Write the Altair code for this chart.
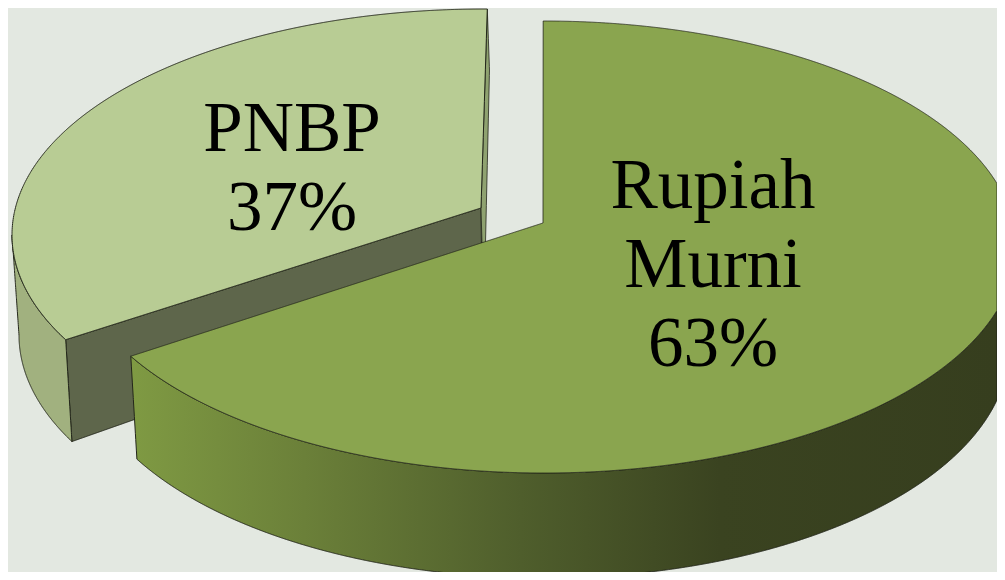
import numpy as np
import pandas as pd
import altair as alt

LABELS = ["Rupiah\nMurni\n63%", "PNBP\n37%"]
SHARES = [63, 37]

# projected-view constants of the tilted, exploded pie
W, H = 1005, 580
PAGE = 8
VIEW_SHIFT = 14.3                # perspective shift of the cut between slices (deg)
TOP_A, TOP_B = 472, 226
LOW_A, LOW_B = 465, 230
GREEN_C, GREEN_LOW = (544, 247), (544, 348)
PALE_C, PALE_LOW = (484, 235), (484, 335)
APEX_OFF = (-1, -24)


def arc(c, a, b, d0, d1, n=240):
    t = np.radians(np.linspace(d0, d1, n))
    return np.c_[c[0] + a * np.sin(t), c[1] - b * np.cos(t)]


def spans(poly, step=1.0):
    poly = np.asarray(poly, float)
    x0 = poly[:, 0]
    y0 = poly[:, 1]
    x1 = np.roll(x0, -1)
    y1 = np.roll(y0, -1)
    lo, hi = x0.min(), min(x0.max(), W - PAGE)
    grid = np.arange(np.ceil(lo) + 0.37, hi, step)
    extra = np.r_[x0 - 1e-3, x0 + 1e-3]
    xs = np.unique(np.r_[lo + 1e-3, grid, extra[(extra > lo) & (extra < hi)], hi - 1e-3])
    rows = []
    for x in xs:
        m = (x0 - x) * (x1 - x) < 0
        if not m.any():
            continue
        ys = y0[m] + (x - x0[m]) / (x1[m] - x0[m]) * (y1[m] - y0[m])
        rows.append((x, ys.min(), ys.max()))
    return pd.DataFrame(rows, columns=["x", "y", "y2"])


cut = SHARES[0] / sum(SHARES) * 360 + VIEW_SHIFT
green_end = cut
pale_start, pale_end = cut + 1.3, 360.4

green_apex = (GREEN_C[0] + APEX_OFF[0], GREEN_C[1] + APEX_OFF[1])
pale_apex = (481, 208)

green_arc = arc(GREEN_C, TOP_A, TOP_B, -0.1, green_end)
green_top = np.r_[green_arc, [green_apex]]
green_side = np.r_[
    arc(GREEN_C, TOP_A, TOP_B, 95, green_end),
    arc(GREEN_LOW, LOW_A, LOW_B, green_end, 95),
]

pale_arc = arc(PALE_C, TOP_A, TOP_B, pale_start, pale_end)
pale_top = np.r_[pale_arc, [pale_apex]]
pale_low = arc(PALE_LOW, LOW_A, LOW_B, pale_start, 270)
pale_side = np.r_[arc(PALE_C, TOP_A, TOP_B, pale_start, 270), pale_low[::-1]]
pale_face = np.array([pale_arc[0], pale_apex, (482, 297), pale_low[0]])
pale_sliver = np.array([pale_arc[-1], (489.5, 70), (485.5, 243), (482, 243), pale_apex])

xs = alt.Scale(domain=[PAGE, W - PAGE], range=[0, W - 2 * PAGE], nice=False, zero=False)
ys = alt.Scale(domain=[H - PAGE, PAGE], range=[H - 2 * PAGE, 0], nice=False, zero=False)
X = alt.X("x:Q", scale=xs, axis=None)
Y = alt.Y("y:Q", scale=ys, axis=None)
Y2 = alt.Y2("y2:Q")

INK = "#23261a"


def shape(poly, fill, sw=1.0):
    return (
        alt.Chart(spans(poly))
        .mark_area(fill=fill, stroke=INK, strokeWidth=sw, clip=True)
        .encode(x=X, y=Y, y2=Y2)
    )


side_grad = alt.Gradient(
    gradient="linear", x1=0, x2=1, y1=0, y2=0,
    stops=[
        alt.GradientStop(color="#7f9a43", offset=0),
        alt.GradientStop(color="#6b8039", offset=0.2),
        alt.GradientStop(color="#4f5e2c", offset=0.45),
        alt.GradientStop(color="#3a4320", offset=0.68),
        alt.GradientStop(color="#363e1e", offset=1),
    ],
)

text_df = pd.DataFrame(
    {"x": [713, 292], "y": [152, 95], "t": LABELS}
)
labels = (
    alt.Chart(text_df)
    .mark_text(
        font="Liberation Serif", fontSize=71, color="#000000", lineBreak="\n",
        lineHeight=79, baseline="top", align="center",
    )
    .encode(x=X, y=Y, text="t:N")
)

chart = alt.layer(
    shape(pale_face, "#5e664b"),
    shape(pale_side, "#a1b17f"),
    shape(pale_sliver, "#8fa270", 0.8),
    shape(pale_top, "#b8cc94"),
    shape(green_side, side_grad),
    shape(green_top, "#8aa54f", 0.8),
    labels,
).properties(
    width=W - 2 * PAGE,
    height=H - 2 * PAGE,
    padding=0,
    autosize=alt.AutoSizeParams(type="none"),
    background="#e3e8e1",
).configure_view(stroke=None)

chart.save("out.html", embed_options={"renderer": "svg", "actions": False})
